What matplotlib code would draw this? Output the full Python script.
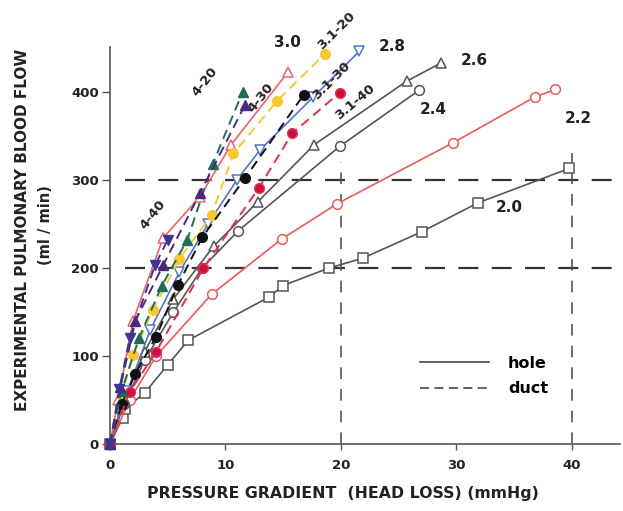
import matplotlib
matplotlib.use("Agg")
import matplotlib.pyplot as plt
from matplotlib.lines import Line2D

plt.rcParams['font.family'] = ['DejaVu Sans']
plt.rcParams['font.weight'] = 'bold'

# ---- data: holes (solid) ----
x_20 = [0, 1.1, 1.3, 3.0, 5.0, 6.8, 13.8, 15.0, 19.0, 21.9, 27.0, 31.9, 39.8]
y_20 = [0, 30, 40, 58, 90, 118, 167, 180, 200, 211, 241, 274, 313]
x_22 = [0, 1.7, 4.0, 8.8, 14.9, 19.7, 29.7, 36.8, 38.6]
y_22 = [0, 50, 100, 170, 233, 273, 342, 394, 403]
x_24 = [0, 1.2, 3.0, 5.5, 8.0, 11.1, 19.9, 26.8]
y_24 = [0, 45, 95, 150, 200, 242, 338, 402]
x_26 = [0, 1.2, 3.0, 5.5, 9.0, 12.8, 17.7, 25.7, 28.7]
y_26 = [0, 50, 105, 165, 225, 275, 340, 412, 433]
x_28 = [0, 1.5, 3.5, 6.0, 8.5, 11.0, 13.0, 17.6, 21.6]
y_28 = [0, 60, 130, 195, 250, 300, 334, 394, 446]
x_30 = [0, 0.7, 2.0, 4.6, 7.8, 10.5, 15.4]
y_30 = [0, 50, 140, 234, 281, 340, 422]

# ---- data: ducts (dashed) ----
x_3120 = [0, 1.0, 2.0, 3.7, 6.0, 8.8, 10.7, 14.5, 18.6]
y_3120 = [0, 55, 101, 152, 210, 260, 330, 390, 443]
x_3130 = [0, 1.0, 2.2, 4.0, 5.9, 8.0, 11.7, 16.8]
y_3130 = [0, 45, 80, 122, 181, 235, 302, 397]
x_3140 = [0, 1.7, 4.0, 8.1, 12.9, 15.8, 19.9]
y_3140 = [0, 59, 105, 200, 291, 353, 399]
x_420 = [0, 1.0, 2.5, 4.5, 6.7, 8.9, 11.5]
y_420 = [0, 60, 120, 180, 232, 318, 400]
x_430 = [0, 0.9, 2.2, 4.6, 7.8, 11.7]
y_430 = [0, 65, 140, 203, 285, 385]
x_440 = [0, 0.8, 1.7, 3.9, 5.0]
y_440 = [0, 62, 120, 203, 232]

x_ticks = [0, 10, 20, 30, 40]
y_ticks = [0, 100, 200, 300, 400]
ref_y = [200, 300]
ref_x = [20, 40]

fig = plt.figure(figsize=(6.23, 5.11), dpi=100)
ax = fig.add_axes([0.1766, 0.1311, 0.8186, 0.777])

gray = '#555555'
holes = [
    (x_20, y_20, gray, 's', 'white'),
    (x_22, y_22, '#ea5a5e', 'o', 'white'),
    (x_24, y_24, gray, 'o', 'white'),
    (x_26, y_26, gray, '^', 'white'),
    (x_28, y_28, '#4f77c6', 'v', 'white'),
    (x_30, y_30, '#f0606c', '^', 'white'),
]
for xs, ys, c, m, fc in holes:
    ax.plot(xs, ys, color=c, lw=1.2, marker=m, ms=7, mfc=fc, mec=c, mew=1.1,
            clip_on=False, zorder=3)

ducts = [
    (x_3120, y_3120, '#f8c833', 'o', '#f8c833'),
    (x_3130, y_3130, '#111111', 'o', '#111111'),
    (x_3140, y_3140, '#e0304a', 'o', '#cc1040'),
    (x_420, y_420, '#1f6e57', '^', '#1f6e57'),
    (x_430, y_430, '#4a2a7a', '^', '#4a2a7a'),
    (x_440, y_440, '#3c3592', 'v', '#3c3592'),
]
for xs, ys, c, m, fc in ducts:
    ax.plot(xs, ys, color=c, lw=1.4, ls=(0, (5, 3)), marker=m, ms=7, mfc=fc,
            mec=c, mew=1.0, clip_on=False, zorder=4)

# reference lines
for yv in ref_y:
    ax.plot([1.3, 44.5], [yv, yv], color='#333333', lw=1.6, ls=(0, (9, 6)),
            clip_on=False, zorder=2)
ax.plot([ref_x[0], ref_x[0]], [0, 320], color='#555555', lw=1.2,
        ls=(0, (7, 6)), zorder=2)
ax.plot([ref_x[1], ref_x[1]], [0, 330], color='#555555', lw=1.2,
        ls=(0, (7, 6)), zorder=2)

# curve labels
lab_kw = dict(fontsize=11, fontweight='bold', color='#222222',
              ha='center', va='center', clip_on=False, zorder=6)
ax.text(34.6, 269, '2.0', **lab_kw)
ax.text(40.6, 370, '2.2', **lab_kw)
ax.text(28.0, 380, '2.4', **lab_kw)
ax.text(31.6, 436, '2.6', **lab_kw)
ax.text(24.5, 451, '2.8', **lab_kw)
ax.text(15.4, 456, '3.0', **lab_kw)
rk = dict(lab_kw, fontsize=9.5)
ax.text(19.6, 470, '3.1-20', rotation=45, **rk)
ax.text(19.2, 413, '3.1-30', rotation=45, **rk)
ax.text(21.2, 388, '3.1-40', rotation=40, **rk)
ax.text(8.2, 411, '4-20', rotation=52, **rk)
ax.text(13.1, 393, '4-30', rotation=52, **rk)
ax.text(3.7, 260, '4-40', rotation=52, **rk)

ax.set_xlim(0, 44.2)
ax.set_ylim(0, 451)
ax.set_xticks(x_ticks)
ax.set_yticks(y_ticks)
ax.tick_params(axis='y', direction='out', length=6, width=1, color=gray,
               labelsize=9.5, labelcolor='#222222', pad=2)
ax.tick_params(axis='x', direction='out', length=4, width=1, color=gray,
               labelsize=9.5, labelcolor='#222222', pad=7)
for s in ['top', 'right']:
    ax.spines[s].set_visible(False)
for s in ['left', 'bottom']:
    ax.spines[s].set_color(gray)
    ax.spines[s].set_linewidth(1.2)
for t in ax.get_xticklabels() + ax.get_yticklabels():
    t.set_fontweight('bold')

fig.text(0.551, 0.035, 'PRESSURE GRADIENT  (HEAD LOSS) (mmHg)', fontsize=11.3,
         fontweight='bold', color='#222222', ha='center', va='center')
fig.text(0.036, 0.55, 'EXPERIMENTAL PULMONARY BLOOD FLOW', rotation=90,
         fontsize=11, fontweight='bold', color='#222222', ha='center', va='center')
fig.text(0.073, 0.56, '(ml / min)', rotation=90, fontsize=10.5,
         fontweight='bold', color='#222222', ha='center', va='center')

handles = [Line2D([], [], color=gray, lw=1.3),
           Line2D([], [], color=gray, lw=1.3, ls=(0, (5, 3)))]
ax.legend(handles, ['hole', 'duct'], loc='upper left',
          bbox_to_anchor=(0.608, 0.222), frameon=False, fontsize=11.5,
          handlelength=4.3, handletextpad=1.2, labelspacing=0.65,
          borderpad=0, borderaxespad=0)

fig.savefig('out.png', dpi=100)
